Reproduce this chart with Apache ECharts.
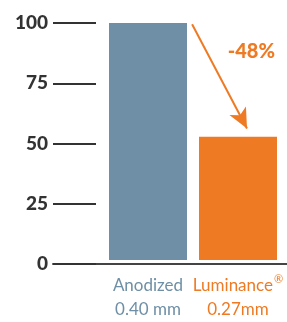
<!DOCTYPE html>
<html>
<head>
<meta charset="utf-8">
<script src="https://cdn.jsdelivr.net/npm/echarts@6/dist/echarts.min.js"></script>
<style>
    html, body { margin: 0; padding: 0; background: #fff; }
    #chart { width: 287px; height: 322px; }
</style>
</head>
<body>
<div id="chart"></div>
<script>
    const categories = ['Anodized\n0.40 mm', 'Luminance®\n0.27mm'];
    const values = [100, 52];
    const barColors = ['#6E8FA5', '#EE7A24'];
    const yTicks = [0, 25, 50, 75, 100];
    const changeLabel = '-48%';
    // arrow ends, in category-index / value units
    const arrowFrom = [0.49, 99.5];
    const arrowTo = [1.1, 55.5];

    const fontFamily = 'Lato, "Noto Sans", sans-serif';

    const option = {
        animation: false,
        grid: [
            { left: 103, right: 4, top: 23, bottom: 58 },
            { left: 53, right: 0, top: 23, bottom: 58 }
        ],
        title: {
            text: changeLabel,
            right: 7,
            top: 37,
            textStyle: { color: '#EE7A24', fontSize: 20, fontWeight: 900, fontFamily }
        },
        xAxis: [{
            type: 'category',
            gridIndex: 0,
            data: categories,
            axisLine: { show: false },
            axisTick: { show: false },
            axisLabel: {
                interval: 0,
                hideOverlap: false,
                margin: 14,
                fontSize: 17,
                lineHeight: 24,
                fontFamily,
                color: (v, i) => barColors[i],
                formatter: v => v.split('\n').map(line =>
                    line.replace('®', '{sup|®}')).join('\n'),
                rich: {
                    sup: {
                        fontSize: 11,
                        fontFamily,
                        color: barColors[1],
                        verticalAlign: 'top',
                        padding: [0, 0, 9, 1]
                    }
                }
            }
        }, {
            type: 'value',
            gridIndex: 1,
            show: true,
            axisLine: { show: true, lineStyle: { color: '#444', width: 2 } },
            axisTick: { show: false },
            axisLabel: { show: false },
            splitLine: { show: false }
        }, {
            type: 'value',
            gridIndex: 0,
            min: -0.5,
            max: 1.5,
            show: false
        }],
        yAxis: [{
            type: 'value',
            gridIndex: 0,
            min: 0,
            max: 100,
            interval: 25,
            show: false
        }, {
            type: 'value',
            gridIndex: 1,
            min: 0,
            max: 100,
            interval: 25,
            axisLine: { show: false },
            axisTick: { show: true, inside: true, length: 43, lineStyle: { color: '#333', width: 2 } },
            axisLabel: {
                margin: 5,
                fontSize: 19,
                fontWeight: 900,
                fontFamily,
                color: '#333',
                formatter: v => yTicks.includes(v) ? String(v) : ''
            },
            splitLine: { show: false }
        }],
        series: [{
            type: 'bar',
            xAxisIndex: 0,
            yAxisIndex: 0,
            barWidth: 78,
            data: values.map((v, i) => ({ value: v, itemStyle: { color: barColors[i] } }))
        }, {
            type: 'line',
            xAxisIndex: 2,
            yAxisIndex: 0,
            data: [],
            markLine: {
                silent: true,
                symbol: ['none', 'arrow'],
                symbolSize: [14, 20],
                label: { show: false },
                lineStyle: { color: '#EE7A24', width: 2, type: 'solid' },
                data: [[{ coord: arrowFrom }, { coord: arrowTo }]]
            }
        }]
    };

    const myChart = echarts.init(document.getElementById('chart'));
    myChart.setOption(option);
</script>
</body>
</html>
